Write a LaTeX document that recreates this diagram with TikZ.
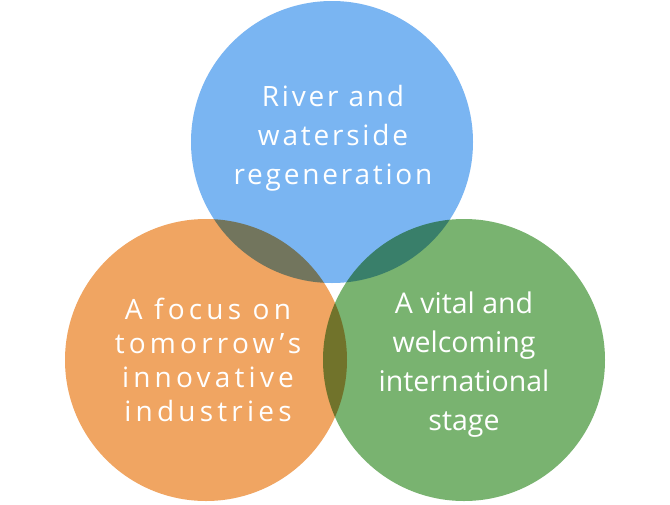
\documentclass[tikz,border=0pt]{standalone}
\usepackage{fontspec}
\setmainfont{Open Sans}
\newfontfamily\spaced[LetterSpace=10]{Open Sans}
\newfontfamily\wider[LetterSpace=15]{Open Sans}
\definecolor{cblue}{HTML}{7AB5F2}
\definecolor{corange}{HTML}{F0A562}
\definecolor{cgreen}{HTML}{79B370}
\begin{document}
\begin{tikzpicture}[x=1pt,y=-1pt]
\tikzset{
  disc/.style={circle, minimum size=282pt, inner sep=0pt, draw=none, blend mode=multiply},
  lbl/.style={text=white, align=center, anchor=base, inner sep=0pt}
}
\fill[white] (0,0) rectangle (670,504);
\useasboundingbox (0,0) rectangle (670,504);
\node[disc, fill=cblue] (blue) at (332,142) {};
\node[disc, fill=corange] (orange) at (206,360) {};
\node[disc, fill=cgreen] (green) at (464,360) {};
\node[lbl, font={\fontsize{28}{39}\selectfont\spaced}] (tblue) at (333,184) {River and\\waterside\\regeneration};
\node[lbl, font={\fontsize{28}{33.7}\selectfont\wider}] (torange) at (208,421) {A focus on\\tomorrow’s\\innovative\\industries};
\node[lbl, font={\fontsize{28.5}{39}\selectfont}] (tgreen) at (464,430) {A vital and\\welcoming\\international\\stage};
\end{tikzpicture}
\end{document}
